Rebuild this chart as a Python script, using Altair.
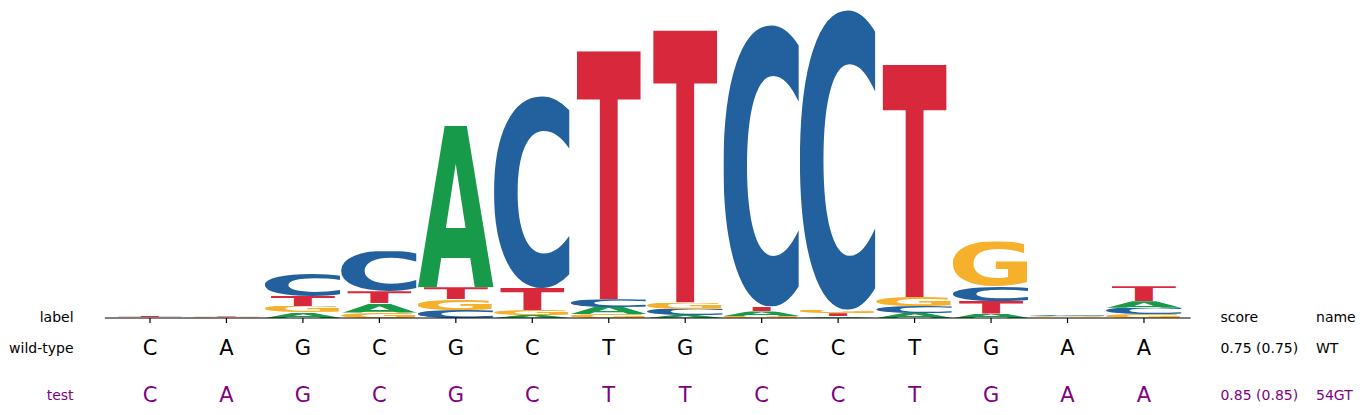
import urllib.parse
import altair as alt
import pandas as pd

# ---------------- data ----------------
positions = list(range(1, 15))
letters = ["A", "C", "G", "T"]
# information content (bits) of each base at each position
A_bits = [0.003, 0.002, 0.037, 0.061, 1.043, 0.019, 0.045, 0.019, 0.029, 0.011, 0.032, 0.029, 0.003, 0.042]
C_bits = [0.002, 0.001, 0.148, 0.258, 0.052, 1.240, 0.050, 0.039, 1.816, 1.934, 0.045, 0.097, 0.010, 0.040]
G_bits = [0.002, 0.006, 0.040, 0.035, 0.071, 0.032, 0.026, 0.042, 0.013, 0.022, 0.058, 0.287, 0.006, 0.026]
T_bits = [0.010, 0.007, 0.065, 0.077, 0.075, 0.142, 1.600, 1.755, 0.032, 0.020, 1.497, 0.081, 0.002, 0.097]

wild_type_seq = list("CAGCGCTGCCTGAA")
test_seq = list("CAGCGCTTCCTGAA")
row_labels = ["label", "wild-type", "test"]
header_labels = ["score", "name"]
scores = ["0.75 (0.75)", "0.85 (0.85)"]
names = ["WT", "54GT"]

# ---------------- style ----------------
colors = {"A": "#179a4a", "C": "#22609e", "G": "#f6b12c", "T": "#d8283c"}
half_width = {"A": 0.5, "C": 0.5, "G": 0.5, "T": 0.42}
# glyph ink boxes (font units, DejaVu Sans Bold, 2048 upem): xMin, yMin, xMax, yMax
ink = {"A": (0, 0, 1585, 1493), "C": (102, -29, 1393, 1522),
       "G": (102, -29, 1573, 1522), "T": (6, 0, 1391, 1493)}


def glyph_uri(letter):
    x0, y0, x1, y1 = ink[letter]
    svg = (f"<svg xmlns='http://www.w3.org/2000/svg' width='100' height='100' "
           f"viewBox='{x0} {-y1} {x1 - x0} {y1 - y0}' preserveAspectRatio='none'>"
           f"<text x='0' y='0' font-family='DejaVu Sans' font-weight='bold' "
           f"font-size='2048' fill='{colors[letter]}'>{letter}</text></svg>")
    return "data:image/svg+xml;charset=utf-8," + urllib.parse.quote(svg)


bits = {"A": A_bits, "C": C_bits, "G": G_bits, "T": T_bits}
rows = []
for i, p in enumerate(positions):
    stack = sorted((bits[L][i], L) for L in letters)
    base = 0.0
    for h, L in stack:
        rows.append(dict(pos=p, letter=L, y0=base, y1=base + h,
                         x0=p - half_width[L], x1=p + half_width[L], url=glyph_uri(L)))
        base += h
logo_df = pd.DataFrame(rows)

seq_df = pd.DataFrame({"pos": positions, "wt": wild_type_seq, "test": test_seq})

PX_PER_BIT = 155.0
xs = alt.Scale(domain=[-0.857, 16.786], nice=False, zero=False)
ys = alt.Scale(domain=[-89 / PX_PER_BIT, 310 / PX_PER_BIT], nice=False, zero=False)
Y_LABEL = -0.3 / PX_PER_BIT
Y_WT = -31.3 / PX_PER_BIT
Y_TEST = -77.6 / PX_PER_BIT
TICK = -5 / PX_PER_BIT
FONT = "DejaVu Sans"

logo = alt.Chart(logo_df).mark_image(aspect=False).encode(
    x=alt.X("x0:Q", scale=xs, axis=None),
    x2="x1:Q",
    y=alt.Y("y0:Q", scale=ys, axis=None),
    y2="y1:Q",
    url="url:N",
)

axis_df = pd.DataFrame({"xa": [min(positions) - 0.59], "xb": [max(positions) + 0.61]})
axis_line = alt.Chart(axis_df).mark_rule(color="black", strokeWidth=1.2).encode(
    x=alt.X("xa:Q", scale=xs, axis=None), x2="xb:Q",
    y=alt.Y(datum=0, scale=ys, axis=None),
)
ticks = alt.Chart(seq_df).mark_rule(color="black", strokeWidth=1.2).encode(
    x=alt.X("pos:Q", scale=xs, axis=None),
    y=alt.Y(datum=0, scale=ys, axis=None),
    y2=alt.Y2(datum=TICK),
)

wt_text = alt.Chart(seq_df).mark_text(font=FONT, fontSize=21, color="black", baseline="middle").encode(
    x=alt.X("pos:Q", scale=xs, axis=None), y=alt.Y(datum=Y_WT, scale=ys, axis=None), text="wt:N")
test_text = alt.Chart(seq_df).mark_text(font=FONT, fontSize=21, color="#800080", baseline="middle").encode(
    x=alt.X("pos:Q", scale=xs, axis=None), y=alt.Y(datum=Y_TEST, scale=ys, axis=None), text="test:N")

lab_df = pd.DataFrame({"t": row_labels, "yy": [Y_LABEL, Y_WT, Y_TEST],
                       "c": ["black", "black", "#800080"]})
row_text = alt.Chart(lab_df).mark_text(font=FONT, fontSize=14, align="right", baseline="middle").encode(
    x=alt.X(datum=0.0, scale=xs, axis=None), y=alt.Y("yy:Q", scale=ys, axis=None),
    text="t:N", color=alt.Color("c:N", scale=None))

right_df = pd.DataFrame({
    "t": header_labels + scores + names,
    "xx": [15.0, 16.25, 15.0, 15.0, 16.25, 16.25],
    "yy": [Y_LABEL, Y_LABEL, Y_WT, Y_TEST, Y_WT, Y_TEST],
    "c": ["black", "black", "black", "#800080", "black", "#800080"],
})
right_text = alt.Chart(right_df).mark_text(font=FONT, fontSize=14, align="left", baseline="middle").encode(
    x=alt.X("xx:Q", scale=xs, axis=None), y=alt.Y("yy:Q", scale=ys, axis=None),
    text="t:N", color=alt.Color("c:N", scale=None))

chart = alt.layer(logo, axis_line, ticks, wt_text, test_text, row_text, right_text).properties(
    width=1349, height=399, padding=0, background="white",
    autosize=alt.AutoSizeParams(type="fit", contains="padding"),
).configure_view(stroke=None)

chart.save("out.html", embed_options={"renderer": "svg", "actions": False})
